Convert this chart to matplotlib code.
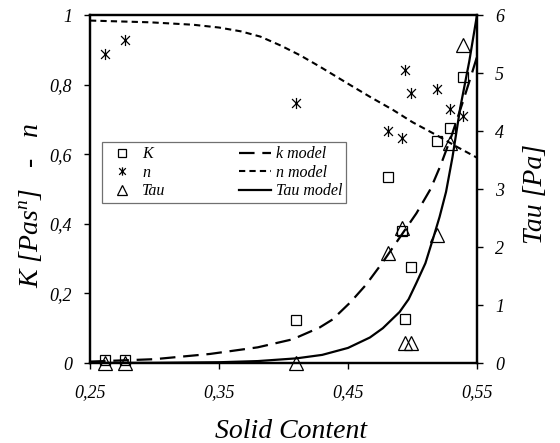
import matplotlib
matplotlib.use("Agg")
import matplotlib.pyplot as plt
from matplotlib.path import Path
from matplotlib.ticker import FixedLocator, FuncFormatter

plt.rcParams['font.family'] = ['Liberation Serif', 'DejaVu Serif']
plt.rcParams['mathtext.fontset'] = 'custom'
plt.rcParams['mathtext.rm'] = 'Liberation Serif:italic'
plt.rcParams['mathtext.it'] = 'Liberation Serif:italic'

# ---- measured data ----
solid = [0.262, 0.277, 0.410, 0.481, 0.492, 0.494, 0.499, 0.519, 0.529, 0.539]
K_vals = [0.010, 0.008, 0.124, 0.535, 0.380, 0.126, 0.275, 0.638, 0.674, 0.823]
n_vals = [0.888, 0.928, 0.748, 0.668, 0.646, 0.842, 0.775, 0.786, 0.729, 0.710]
tau_vals = [0.0, 0.0, 0.0, 1.89, 2.32, 0.34, 0.34, 2.20, 3.79, 5.49]

# ---- model curves ----
k_model_x = [0.25, 0.30, 0.343, 0.38, 0.407, 0.428, 0.438, 0.452, 0.464, 0.477, 0.490, 0.503, 0.514, 0.522, 0.530, 0.539, 0.545, 0.55]
k_model_y = [0.004, 0.011, 0.026, 0.045, 0.068, 0.102, 0.125, 0.175, 0.225, 0.29, 0.36, 0.43, 0.50, 0.57, 0.65, 0.75, 0.82, 0.88]
n_model_x = [0.25, 0.2965, 0.33, 0.35, 0.367, 0.382, 0.398, 0.413, 0.428, 0.4516, 0.467, 0.485, 0.50, 0.519, 0.535, 0.55]
n_model_y = [0.984, 0.979, 0.972, 0.964, 0.953, 0.938, 0.912, 0.884, 0.852, 0.799, 0.765, 0.727, 0.692, 0.654, 0.620, 0.590]
tau_model_x = [0.25, 0.30, 0.35, 0.38, 0.41, 0.43, 0.45, 0.467, 0.477, 0.49, 0.497, 0.503, 0.510, 0.516, 0.521, 0.526, 0.531, 0.537, 0.544, 0.55]
tau_model_y = [0.001, 0.003, 0.013, 0.033, 0.08, 0.14, 0.26, 0.44, 0.60, 0.88, 1.10, 1.38, 1.72, 2.15, 2.52, 2.95, 3.55, 4.40, 5.20, 6.00]

x_ticks = [0.25, 0.35, 0.45, 0.55]
left_ticks = [0, 0.2, 0.4, 0.6, 0.8, 1.0]
right_ticks = [0, 1, 2, 3, 4, 5, 6]

def comma(v, pos=None):
    s = ('%g' % round(v, 2))
    return s.replace('.', ',')

star = Path([(-1, -1), (1, 1), (-1, 1), (1, -1), (0, -1.25), (0, 1.25)],
            [Path.MOVETO, Path.LINETO, Path.MOVETO, Path.LINETO, Path.MOVETO, Path.LINETO])

fig = plt.figure(figsize=(5.6, 4.43), dpi=100)
ax = fig.add_axes([90/560, 1-363/443, 387/560, 348/443])
ax2 = ax.twinx()

ax.set_xlim(0.25, 0.55)
ax.set_ylim(0, 1)
ax2.set_ylim(0, 6)

hK, = ax.plot(solid, K_vals, ls='none', marker='s', ms=7.5, mfc='none', mec='black', mew=0.9, clip_on=False, label='K')
hn, = ax.plot(solid, n_vals, ls='none', marker=star, ms=8, mfc='none', mec='black', mew=0.9, clip_on=False, label='n')
ht, = ax2.plot(solid, tau_vals, ls='none', marker='^', ms=9.5, mfc='none', mec='black', mew=0.9, clip_on=False, label='Tau')

hkm, = ax.plot(k_model_x, k_model_y, color='black', lw=1.6, dashes=(7, 3.5), label='k model')
hnm, = ax.plot(n_model_x, n_model_y, color='black', lw=1.5, dashes=(3, 2), label='n model')
htm, = ax2.plot(tau_model_x, tau_model_y, color='black', lw=1.6, label='Tau model')

for a in (ax, ax2):
    for sp in a.spines.values():
        sp.set_linewidth(1.6)
        sp.set_color('black')

ax.xaxis.set_major_locator(FixedLocator(x_ticks))
ax.xaxis.set_major_formatter(FuncFormatter(comma))
ax.yaxis.set_major_locator(FixedLocator(left_ticks))
ax.yaxis.set_major_formatter(FuncFormatter(comma))
ax2.yaxis.set_major_locator(FixedLocator(right_ticks))
ax2.yaxis.set_major_formatter(FuncFormatter(comma))

ax.tick_params(axis='both', direction='out', length=4, width=1, labelsize=13, pad=9)
ax.tick_params(axis='x', pad=11)
ax2.tick_params(axis='y', direction='out', length=4, width=1, labelsize=13, pad=9)
for lab in ax.get_xticklabels() + ax.get_yticklabels() + ax2.get_yticklabels():
    lab.set_fontstyle('italic')

ax.set_xlabel('Solid Content', fontsize=20, fontstyle='italic', va='center')
ax.xaxis.set_label_coords(0.519, -0.197)
ax.set_ylabel('K [Pas$^n$]   -   n', fontsize=20, fontstyle='italic', va='center')
ax.yaxis.set_label_coords(-0.155, 0.453)
ax2.set_ylabel('Tau [Pa]', fontsize=20, fontstyle='italic', va='center', rotation=90)
ax2.yaxis.set_label_coords(1.150, 0.486)

leg = ax.legend(handles=[hK, hn, ht, hkm, hnm, htm], ncol=2, loc='upper left',
                bbox_to_anchor=(0.030, 0.634), borderaxespad=0, fancybox=False,
                edgecolor='#707070', framealpha=1,
                prop={'family': 'Liberation Serif', 'style': 'italic', 'size': 11.5},
                handlelength=2.0, handletextpad=0.3, columnspacing=4.6, labelspacing=0.15,
                borderpad=0.25, markerscale=0.75)
leg.get_frame().set_linewidth(0.9)
leg.set_zorder(5)

fig.savefig('out.png', dpi=100)
